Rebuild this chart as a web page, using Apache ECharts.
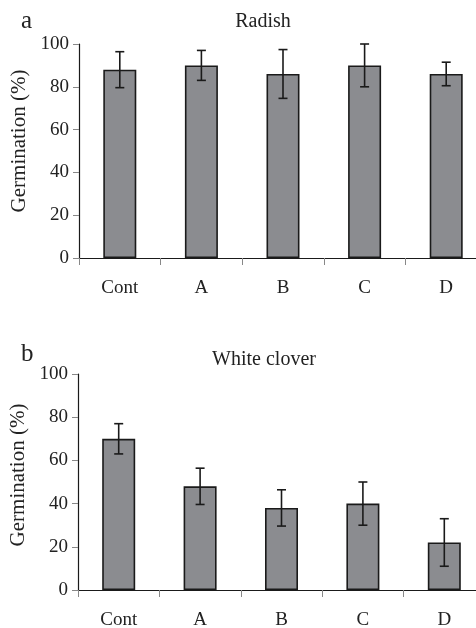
<!DOCTYPE html>
<html><head><meta charset="utf-8">
<script src="https://cdn.jsdelivr.net/npm/echarts@6/dist/echarts.min.js"></script>
<style>html,body{margin:0;padding:0;background:#fff}#c{width:476px;height:628px}</style>
</head><body><div id="c"></div>
<script>
const categories = ['Cont', 'A', 'B', 'C', 'D'];
const radishMean = [88, 90, 86, 90, 86];
const radishErr = [8.4, 7, 11.4, 10, 5.5];
const cloverMean = [70, 48, 38, 40, 22];
const cloverErr = [7, 8.4, 8.4, 10, 11];
const yTicks = [0, 20, 40, 60, 80, 100];
const titles = ['Radish', 'White clover'];
const panelLetters = ['a', 'b'];

const FONT = '"Liberation Serif", "Times New Roman", serif';
const TXT = '#222';

function errData(mean, err) {
  return mean.map((m, i) => [i, m - err[i], m + err[i]]);
}
function errRender(params, api) {
  const x = api.value(0);
  const lo = api.coord([x, api.value(1)]);
  const hi = api.coord([x, api.value(2)]);
  const w = 4.5;
  const st = { stroke: '#1a1a1a', lineWidth: 1.6 };
  return { type: 'group', children: [
    { type: 'line', shape: { x1: lo[0], y1: lo[1], x2: hi[0], y2: hi[1] }, style: st },
    { type: 'line', shape: { x1: lo[0] - w, y1: lo[1], x2: lo[0] + w, y2: lo[1] }, style: st },
    { type: 'line', shape: { x1: hi[0] - w, y1: hi[1], x2: hi[0] + w, y2: hi[1] }, style: st }
  ]};
}

const grids = [
  { left: 79, top: 44, width: 408, height: 214, outerBoundsMode: 'none', containLabel: false },
  { left: 78, top: 374, width: 407, height: 216, outerBoundsMode: 'none', containLabel: false }
];

function xAxis(gi) {
  return {
    type: 'category', gridIndex: gi, data: categories, boundaryGap: true,
    axisLine: { lineStyle: { color: '#1a1a1a', width: 1.2 } },
    axisTick: { show: true, length: 7, lineStyle: { color: '#888', width: 1 } },
    axisLabel: { color: TXT, fontFamily: FONT, fontSize: 19, margin: 21 }
  };
}
function yAxis(gi, shift) {
  return {
    type: 'value', gridIndex: gi, min: yTicks[0], max: yTicks[yTicks.length - 1], interval: 20,
    name: 'Germination (%)', nameLocation: 'middle', nameGap: 43,
    nameTextStyle: { color: TXT, fontFamily: FONT, fontSize: 21, padding: [0, 0, 0, shift] },
    axisLine: { show: true, lineStyle: { color: '#1a1a1a', width: 1.2 } },
    axisTick: { show: true, length: 6, lineStyle: { color: '#888', width: 1 } },
    splitLine: { show: false },
    axisLabel: { color: TXT, fontFamily: FONT, fontSize: 19, margin: 10 }
  };
}
function barSeries(gi, mean) {
  return {
    type: 'bar', xAxisIndex: gi, yAxisIndex: gi, data: mean, barWidth: 33,
    itemStyle: { color: '#8b8c90', borderColor: '#1a1a1a', borderWidth: 1.6 },
    silent: true, animation: false
  };
}
function errSeries(gi, mean, err) {
  return {
    type: 'custom', xAxisIndex: gi, yAxisIndex: gi, data: errData(mean, err),
    renderItem: errRender, encode: { x: 0, y: [1, 2] }, z: 10, silent: true, animation: false
  };
}

const option = {
  animation: false,
  backgroundColor: '#fff',
  title: [
    { text: titles[0], left: 258, top: 7, textAlign: 'center', textStyle: { color: TXT, fontFamily: FONT, fontSize: 20, fontWeight: 'normal' } },
    { text: titles[1], left: 259, top: 345, textAlign: 'center', textStyle: { color: TXT, fontFamily: FONT, fontSize: 20, fontWeight: 'normal' } },
    { text: panelLetters[0], left: 16, top: 4, textStyle: { color: TXT, fontFamily: FONT, fontSize: 25, fontWeight: 'normal' } },
    { text: panelLetters[1], left: 16, top: 337, textStyle: { color: TXT, fontFamily: FONT, fontSize: 25, fontWeight: 'normal' } }
  ],
  grid: grids,
  xAxis: [xAxis(0), xAxis(1)],
  yAxis: [yAxis(0, 20), yAxis(1, 14)],
  series: [
    barSeries(0, radishMean), errSeries(0, radishMean, radishErr),
    barSeries(1, cloverMean), errSeries(1, cloverMean, cloverErr)
  ]
};
const chart = echarts.init(document.getElementById('c'), null, { renderer: 'canvas' });
chart.setOption(option);
</script></body></html>
